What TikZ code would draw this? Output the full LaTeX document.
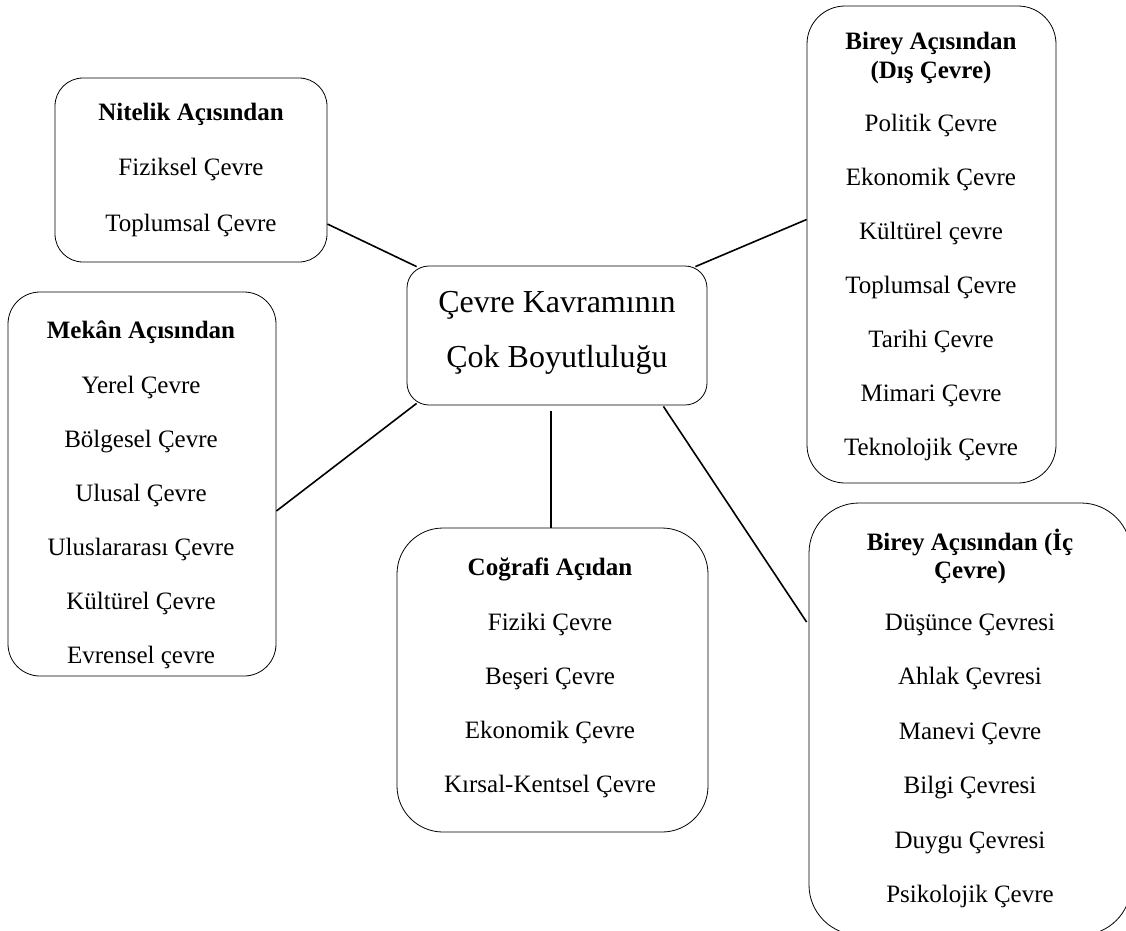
\documentclass[tikz,border=0pt]{standalone}
\usepackage{fontspec}
\setmainfont{Liberation Serif}
\usetikzlibrary{calc}
\begin{document}
\begin{tikzpicture}[x=1pt,y=-1pt,
  box/.style={draw=black, line width=0.8pt, rounded corners=#1, inner sep=0pt},
  txt/.style={anchor=base, inner sep=0pt, font=\fontsize{25}{30}\selectfont},
  hd/.style={anchor=base, inner sep=0pt, font=\fontsize{25}{30}\selectfont\bfseries},
  big/.style={anchor=base, inner sep=0pt, font=\fontsize{32}{36}\selectfont},
  link/.style={line width=1.6pt}]
\useasboundingbox (0,0) rectangle (1126,930);

% boxes
\node[box=22, minimum width=300pt, minimum height=139pt] (cen) at (557,335.5) {};
\node[box=28, minimum width=272pt, minimum height=184pt] (nit) at (191,170) {};
\node[box=32, minimum width=268pt, minimum height=384pt] (mek) at (142,484) {};
\node[box=46, minimum width=311pt, minimum height=304pt] (cog) at (552.5,680) {};
\node[box=38, minimum width=249pt, minimum height=477pt] (dis) at (931.5,244.5) {};
\node[box=50, minimum width=322pt, minimum height=432pt] (ic) at (970,719) {};

% centre text
\node[big] (cen-1) at (557,312) {Çevre Kavramının};
\node[big] (cen-2) at (557,367) {Çok Boyutluluğu};

% Nitelik
\node[hd] (nit-h) at (191,120) {Nitelik Açısından};
\foreach \t [count=\i] in {Fiziksel Çevre, Toplumsal Çevre}
  \node[txt] (nit-\i) at (191,{120+55.5*\i}) {\t};

% Mekan
\node[hd] (mek-h) at (141,338) {Mekân Açısından};
\foreach \t [count=\i] in {Yerel Çevre, Bölgesel Çevre, Ulusal Çevre, Uluslararası Çevre, Kültürel Çevre, Evrensel çevre}
  \node[txt] (mek-\i) at (141,{339+54*\i}) {\t};

% Cografi
\node[hd] (cog-h) at (550,575) {Coğrafi Açıdan};
\foreach \t [count=\i] in {Fiziki Çevre, Beşeri Çevre, Ekonomik Çevre, Kırsal-Kentsel Çevre}
  \node[txt] (cog-\i) at (550,{576+54*\i}) {\t};

% Dis
\node[hd] (dis-h1) at (931,49) {Birey Açısından};
\node[hd] (dis-h2) at (931,78) {(Dış Çevre)};
\foreach \t [count=\i] in {Politik Çevre, Ekonomik Çevre, Kültürel çevre, Toplumsal Çevre, Tarihi Çevre, Mimari Çevre, Teknolojik Çevre}
  \node[txt] (dis-\i) at (931,{77+54*\i}) {\t};

% Ic
\node[hd] (ic-h1) at (970,550) {Birey Açısından (İç};
\node[hd] (ic-h2) at (970,578) {Çevre)};
\foreach \t [count=\i] in {Düşünce Çevresi, Ahlak Çevresi, Manevi Çevre, Bilgi Çevresi, Duygu Çevresi, Psikolojik Çevre}
  \node[txt] (ic-\i) at (970,{576+54.4*\i}) {\t};

% connectors
\draw[link] ($(nit.east)+(0,54)$) -- ($(cen.north west)+(10,1)$);
\draw[link] ($(dis.west)+(0,-25)$) -- ($(cen.north east)+(-12,1)$);
\draw[link] ($(mek.east)+(0,27)$) -- ($(cen.south west)+(10,-2)$);
\draw[link] ($(cen.south)+(-6,6)$) -- ($(cog.north)+(-1.5,0)$);
\draw[link] ($(cen.south east)+(-44,1)$) -- ($(ic.west)+(-2,-97)$);
\end{tikzpicture}
\end{document}
